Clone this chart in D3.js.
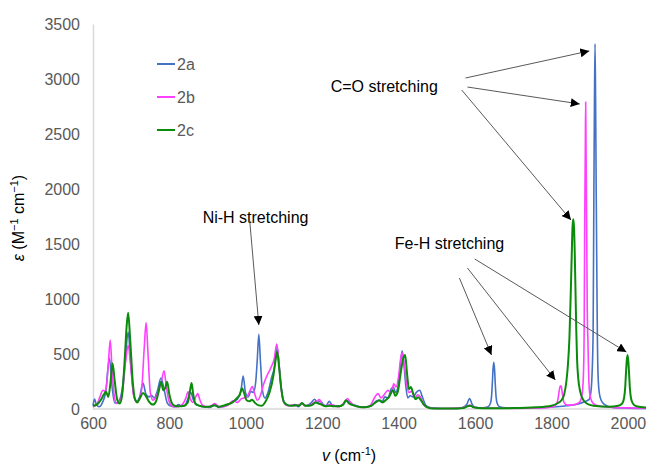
<!DOCTYPE html>
<html>
<head>
<meta charset="utf-8">
<script src="https://cdn.jsdelivr.net/npm/d3@7"></script>
<style>
  body { margin: 0; background: #fff; }
  svg { font-family: "Liberation Sans", Arial, sans-serif; }
  .axis text { fill: #595959; font-size: 16px; }
  .axis .domain { stroke: #d9d9d9; stroke-width: 1.5; }
  .note { font-size: 16px; fill: #000; }
  .arrow { stroke: #595959; stroke-width: 1; fill: none; }
</style>
</head>
<body>
<script>
// spectra, [wavenumber, epsilon]
var s2a = [[600,30],[604,90],[609,40],[616,20],[625,60],[633,150],[643,460],[650,200],[657,55],[665,60],[675,150],[684,420],[692,700],[699,400],[707,120],[714,70],[722,110],[731,236],[738,140],[746,110],[753,125],[760,100],[768,160],[778,282],[786,180],[795,50],[805,25],[815,20],[824,40],[832,25],[840,30],[849,100],[856,150],[862,90],[870,40],[880,30],[890,20],[905,15],[919,35],[930,15],[945,25],[955,40],[967,70],[978,90],[987,160],[993,300],[999,150],[1006,110],[1013,160],[1020,150],[1026,250],[1030,450],[1034,680],[1038,450],[1043,180],[1050,100],[1058,150],[1067,280],[1075,380],[1082,560],[1087,400],[1093,180],[1100,60],[1108,35],[1118,30],[1128,40],[1138,20],[1147,55],[1155,30],[1165,40],[1172,60],[1180,88],[1187,60],[1195,70],[1203,40],[1210,30],[1218,70],[1225,40],[1233,30],[1245,30],[1255,40],[1264,80],[1272,60],[1280,40],[1290,30],[1300,20],[1315,20],[1330,30],[1340,70],[1348,80],[1356,60],[1364,110],[1372,100],[1380,180],[1386,200],[1392,150],[1398,200],[1404,380],[1409,530],[1414,400],[1419,200],[1424,100],[1430,120],[1438,110],[1446,150],[1455,170],[1462,110],[1470,40],[1480,15],[1492,8],[1510,5],[1540,5],[1565,10],[1578,40],[1586,95],[1592,45],[1600,15],[1620,10],[1634,20],[1640,50],[1643,110],[1645,220],[1647,360],[1649,424],[1651,360],[1653,220],[1655,110],[1658,50],[1664,20],[1680,10],[1720,8],[1760,12],[1800,18],[1840,30],[1870,45],[1889,70],[1898,85],[1903,150],[1906,300],[1909,700],[1911,2000],[1912.5,2800],[1914,3320],[1915.5,2800],[1917,2000],[1919,1100],[1920,700],[1922,300],[1925,150],[1930,80],[1939,40],[1960,15],[2000,8],[2050,5]];
var s2b = [[600,20],[610,40],[618,110],[626,170],[633,160],[640,400],[645,627],[650,350],[656,110],[662,50],[670,70],[678,180],[686,450],[692,580],[698,420],[706,130],[714,70],[722,90],[728,200],[734,550],[739,785],[744,500],[750,150],[757,80],[765,110],[772,170],[779,250],[786,348],[792,200],[800,60],[808,25],[818,20],[828,30],[836,50],[843,100],[849,157],[855,90],[862,60],[869,110],[874,140],[880,80],[888,30],[900,20],[910,30],[919,50],[928,25],[940,20],[955,40],[967,75],[978,60],[987,90],[995,100],[1003,110],[1010,160],[1017,203],[1023,140],[1030,80],[1038,120],[1046,220],[1055,300],[1066,380],[1074,450],[1081,590],[1086,450],[1092,200],[1100,60],[1110,30],[1120,35],[1130,30],[1140,40],[1147,50],[1155,35],[1165,30],[1175,50],[1185,70],[1193,85],[1200,40],[1210,30],[1220,40],[1230,35],[1240,20],[1250,30],[1258,60],[1266,95],[1274,60],[1282,35],[1295,20],[1310,15],[1325,30],[1338,110],[1346,140],[1354,100],[1362,130],[1372,170],[1380,140],[1387,230],[1393,200],[1400,300],[1405,450],[1409,510],[1414,420],[1420,250],[1427,150],[1434,160],[1442,100],[1450,130],[1457,110],[1465,40],[1475,15],[1490,6],[1520,5],[1560,8],[1578,25],[1586,35],[1595,20],[1610,8],[1700,6],[1780,10],[1805,20],[1812,40],[1817,90],[1820,160],[1822,200],[1824,212],[1826,200],[1828,150],[1831,80],[1836,45],[1845,35],[1860,40],[1873,60],[1879.5,120],[1883.5,300],[1885.5,700],[1887,1700],[1888.5,2350],[1889.5,2790],[1890.5,2350],[1892,1700],[1893.5,950],[1895.5,600],[1897.5,280],[1900.5,130],[1905.5,70],[1914,40],[1930,25],[1960,15],[2000,10],[2050,6]];
var s2c = [[600,30],[610,40],[620,80],[628,130],[634,157],[640,110],[646,250],[651,415],[657,250],[663,90],[670,50],[676,120],[683,450],[688,750],[692,876],[697,650],[704,250],[710,90],[716,60],[723,100],[731,145],[738,120],[746,70],[757,40],[765,70],[772,160],[778,248],[784,170],[789,190],[794,248],[800,130],[807,50],[814,30],[825,25],[838,30],[848,60],[854,170],[858,236],[862,140],[868,50],[878,30],[890,20],[905,20],[918,35],[928,20],[940,30],[955,45],[965,60],[976,97],[984,130],[990,188],[995,150],[1002,80],[1010,70],[1016,85],[1023,60],[1032,35],[1042,30],[1052,70],[1062,150],[1072,300],[1078,450],[1082,521],[1087,380],[1093,180],[1100,60],[1110,35],[1120,30],[1132,35],[1140,30],[1147,55],[1155,30],[1165,30],[1175,40],[1183,60],[1190,50],[1198,40],[1208,25],[1220,30],[1230,25],[1245,25],[1255,40],[1262,80],[1270,50],[1280,35],[1295,20],[1310,15],[1325,25],[1340,60],[1350,80],[1358,60],[1366,80],[1375,110],[1385,170],[1391,120],[1398,160],[1405,320],[1412,460],[1417,491],[1422,320],[1427,180],[1432,200],[1438,140],[1444,90],[1451,106],[1458,80],[1466,40],[1475,15],[1490,5],[1540,5],[1570,10],[1580,25],[1588,30],[1596,15],[1620,6],[1700,8],[1760,15],[1800,30],[1815,50],[1826,80],[1833,130],[1839,250],[1843,400],[1847,650],[1850,1000],[1853,1400],[1855,1650],[1857,1724],[1859,1650],[1861,1400],[1863,1050],[1865,700],[1867,450],[1870,280],[1875,160],[1882,90],[1892,50],[1910,30],[1950,20],[1975,30],[1985,50],[1990,100],[1993,200],[1995,330],[1997,440],[1999,491],[2001,440],[2003,330],[2005,200],[2008,100],[2013,50],[2022,25],[2050,12]];

var seriesNames = ["2a", "2b", "2c"];
var seriesColors = ["#4472c4", "#ff40ff", "#0a8c0a"];
var seriesData = [s2a, s2b, s2c];

var xTicks = [600, 800, 1000, 1200, 1400, 1600, 1800, 2000];
var yTicks = [0, 500, 1000, 1500, 2000, 2500, 3000, 3500];

// annotations: label position and arrows [fromV, fromE, toV, toE]
var notes = [
  {text: "Ni-H stretching", v: 887, e: 1690, arrows: [[1010, 1718, 1034, 764]]},
  {text: "C=O stretching", v: 1222, e: 2885, arrows: [[1575, 3009, 1899, 3255], [1580, 2927, 1874, 2773], [1565, 2900, 1851, 1718]]},
  {text: "Fe-H stretching", v: 1390, e: 1455, arrows: [[1559, 1191, 1643, 491], [1580, 1282, 1810, 264], [1599, 1364, 1996, 518]]}
];

var W = 646, H = 468;
var svg = d3.select("body").append("svg").attr("width", W).attr("height", H);

var x = d3.scaleLinear().domain([600, 2050]).range([93, 647]);
var y = d3.scaleLinear().domain([0, 3500]).range([409, 24]);

var defs = svg.append("defs");
defs.append("marker").attr("id", "head")
    .attr("viewBox", "0 0 10 10").attr("refX", 10).attr("refY", 5)
    .attr("markerWidth", 9).attr("markerHeight", 9)
    .attr("markerUnits", "userSpaceOnUse")
    .attr("orient", "auto")
  .append("path").attr("d", "M0,0L10,5L0,10z").attr("fill", "#000");

// axes
var gx = svg.append("g").attr("class", "axis")
    .attr("transform", "translate(0," + y(0) + ")")
    .call(d3.axisBottom(x).tickValues(xTicks).tickFormat(d3.format("d")).tickSize(0).tickPadding(9));
var gy = svg.append("g").attr("class", "axis")
    .attr("transform", "translate(" + x(600) + ",0)")
    .call(d3.axisLeft(y).tickValues(yTicks).tickFormat(d3.format("d")).tickSize(0).tickPadding(13));
gx.select(".domain").attr("d", "M" + x(600) + ",0H" + W);

// spectra
var line = d3.line()
    .x(function(d){ return x(d[0]); })
    .y(function(d){ return y(d[1]); })
    .curve(d3.curveMonotoneX);

seriesData.forEach(function(s, i){
  svg.append("path").datum(s)
    .attr("fill", "none")
    .attr("stroke", seriesColors[i])
    .attr("stroke-width", i == 2 ? 2 : 1.6)
    .attr("stroke-linejoin", "round")
    .attr("d", line);
});

// legend
var leg = svg.append("g");
seriesNames.forEach(function(n, i){
  var ly = 64 + i * 33;
  leg.append("line").attr("x1", 157).attr("x2", 175).attr("y1", ly).attr("y2", ly)
    .attr("stroke", seriesColors[i]).attr("stroke-width", 2);
  leg.append("text").attr("x", 177).attr("y", ly + 5.5)
    .attr("fill", "#595959").style("font-size", "16px").text(n);
});

// annotations
notes.forEach(function(n){
  svg.append("text").attr("class", "note")
    .attr("x", x(n.v)).attr("y", y(n.e)).text(n.text);
  n.arrows.forEach(function(a){
    svg.append("line").attr("class", "arrow")
      .attr("x1", x(a[0])).attr("y1", y(a[1]))
      .attr("x2", x(a[2])).attr("y2", y(a[3]))
      .attr("marker-end", "url(#head)");
  });
});

// axis titles
var xt = svg.append("text").attr("x", 349).attr("y", 461)
    .attr("text-anchor", "middle").style("font-size", "16px");
xt.append("tspan").style("font-style", "italic").text("v");
xt.append("tspan").text(" (cm");
xt.append("tspan").attr("dy", -6).style("font-size", "11px").text("-1");
xt.append("tspan").attr("dy", 6).text(")");

var yt = svg.append("text")
    .attr("transform", "translate(24,218) rotate(-90)")
    .attr("text-anchor", "middle").style("font-size", "16px");
yt.append("tspan").style("font-style", "italic").text("ε");
yt.append("tspan").text(" (M");
yt.append("tspan").attr("dy", -6).style("font-size", "11px").text("−1");
yt.append("tspan").attr("dy", 6).text(" cm");
yt.append("tspan").attr("dy", -6).style("font-size", "11px").text("−1");
yt.append("tspan").attr("dy", 6).text(")");
</script>
</body>
</html>
